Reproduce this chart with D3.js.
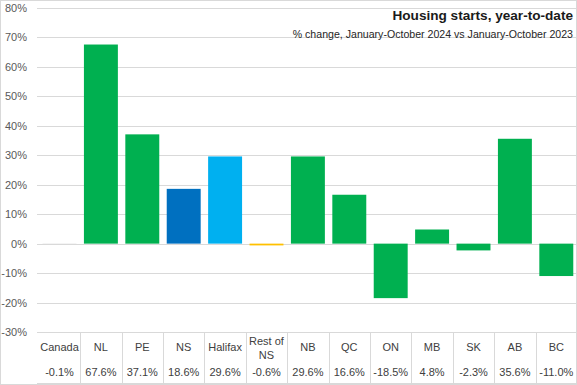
<!DOCTYPE html>
<html>
<head>
<meta charset="utf-8">
<script src="https://cdn.jsdelivr.net/npm/d3@7"></script>
<style>
  body { margin: 0; background: #fff; }
  text { font-family: "Liberation Sans", Arial, sans-serif; }
</style>
</head>
<body>
<script>
// categories and values, % change Jan-Oct 2024 vs Jan-Oct 2023
var regions = ["Canada", "NL", "PE", "NS", "Halifax", "Rest of NS", "NB", "QC", "ON", "MB", "SK", "AB", "BC"];
var changes = [-0.1, 67.6, 37.1, 18.6, 29.6, -0.6, 29.6, 16.6, -18.5, 4.8, -2.3, 35.6, -11.0];
var yTicks = [-30, -20, -10, 0, 10, 20, 30, 40, 50, 60, 70, 80];

// colours per region
var barColor = new Map();
regions.forEach(function(r) { barColor.set(r, "#00b050"); });
barColor.set("Canada", "#d9d9d9");
barColor.set("NS", "#0070c0");
barColor.set("Halifax", "#00b0f0");
barColor.set("Rest of NS", "#ffc000");

var width = 577, height = 385;
var plot = {left: 38.8, right: 577, top: 8, bottom: 332};

var svg = d3.select("body").append("svg")
    .attr("width", width)
    .attr("height", height);

// chart border
svg.append("rect")
    .attr("x", 0.5).attr("y", 0.5)
    .attr("width", width - 1).attr("height", height - 1)
    .attr("fill", "white")
    .attr("stroke", "#d9d9d9");

var x = d3.scaleBand()
    .domain(regions)
    .range([plot.left, plot.right])
    .paddingInner(0.18)
    .paddingOuter(0.09);

var y = d3.scaleLinear()
    .domain([-30, 80])
    .range([plot.bottom, plot.top]);

// gridlines
svg.append("g").selectAll("line")
    .data(yTicks)
    .join("line")
      .attr("x1", 37).attr("x2", plot.right)
      .attr("y1", function(d) { return Math.round(y(d)) + 0.5; })
      .attr("y2", function(d) { return Math.round(y(d)) + 0.5; })
      .attr("stroke", "#d9d9d9")
      .attr("stroke-width", 1);

// y axis labels
var yAxis = d3.axisLeft(y)
    .tickValues(yTicks)
    .tickSize(0)
    .tickPadding(0)
    .tickFormat(function(d) { return d + "%"; });

var ya = svg.append("g")
    .attr("transform", "translate(27,0)")
    .call(yAxis);
ya.select(".domain").remove();
ya.selectAll("text")
    .attr("font-size", "11px")
    .attr("fill", "#595959")
    .style("font-family", "'Liberation Sans', Arial, sans-serif");

// bars
svg.append("g").selectAll("rect")
    .data(regions)
    .join("rect")
      .attr("x", function(d) { return x(d); })
      .attr("width", x.bandwidth())
      .attr("y", function(d, i) { return y(Math.max(0, changes[i])); })
      .attr("height", function(d, i) { return Math.abs(y(changes[i]) - y(0)); })
      .attr("fill", function(d) { return barColor.get(d); });

// data table below the plot
var gap = x.step() - x.bandwidth();
var table = svg.append("g");

table.selectAll("line.sep")
    .data(regions.slice(1))
    .join("line")
      .attr("class", "sep")
      .attr("x1", function(d) { return Math.round(x(d) - gap / 2) + 0.5; })
      .attr("x2", function(d) { return Math.round(x(d) - gap / 2) + 0.5; })
      .attr("y1", plot.bottom)
      .attr("y2", 384)
      .attr("stroke", "#d9d9d9");

table.append("line")
    .attr("x1", 37).attr("x2", plot.right)
    .attr("y1", 383.5).attr("y2", 383.5)
    .attr("stroke", "#d9d9d9");

table.selectAll("text.cat")
    .data(regions)
    .join("text")
      .attr("class", "cat")
      .attr("x", function(d) { return x(d) + x.bandwidth() / 2; })
      .attr("y", function(d) { return d === "Rest of NS" ? 345 : 351; })
      .attr("text-anchor", "middle")
      .attr("font-size", "11px")
      .attr("fill", "#404040")
      .each(function(d) {
        var t = d3.select(this);
        if (d === "Rest of NS") {
          t.append("tspan").attr("x", x(d) + x.bandwidth() / 2).text("Rest of");
          t.append("tspan").attr("x", x(d) + x.bandwidth() / 2).attr("dy", 14).text("NS");
        } else {
          t.text(d);
        }
      });

table.selectAll("text.val")
    .data(changes)
    .join("text")
      .attr("class", "val")
      .attr("x", function(d, i) { return x(regions[i]) + x.bandwidth() / 2; })
      .attr("y", 376)
      .attr("text-anchor", "middle")
      .attr("font-size", "11px")
      .attr("fill", "#404040")
      .text(function(d) { return d.toFixed(1) + "%"; });

// titles
svg.append("text")
    .attr("x", 573).attr("y", 20)
    .attr("text-anchor", "end")
    .attr("font-size", "13.6px")
    .attr("font-weight", "bold")
    .attr("fill", "#1a1a1a")
    .text("Housing starts, year-to-date");

svg.append("text")
    .attr("x", 573).attr("y", 38)
    .attr("text-anchor", "end")
    .attr("font-size", "10.6px")
    .attr("fill", "#262626")
    .text("% change, January-October 2024 vs January-October 2023");
</script>
</body>
</html>
